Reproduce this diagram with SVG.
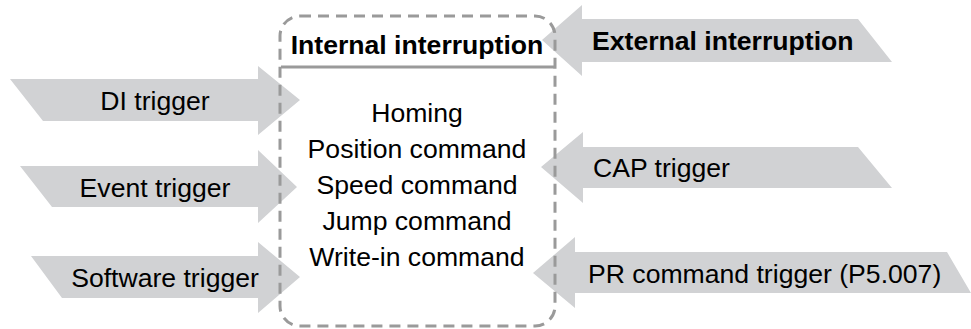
<svg xmlns="http://www.w3.org/2000/svg" width="971" height="329" viewBox="0 0 971 329">
<style>
.arr{fill:#d1d2d4;}
.t{font-family:"Liberation Sans",Arial,sans-serif;font-size:26.6px;fill:#000;}
.b{font-weight:bold;}
.box{fill:none;stroke:#9a9a9a;stroke-width:3;stroke-dasharray:11 7;}
</style>
<g id="connectors">
<g id="di-trigger">
<path class="arr" d="M10,79 L258,79 L258,66 L300,100 L258,135 L258,121 L43,121 Z"/>
<text class="t" x="155" y="110" text-anchor="middle">DI trigger</text>
</g>
<g id="event-trigger">
<path class="arr" d="M20,166 L258,166 L258,150 L297,187 L258,223 L258,207 L52,207 Z"/>
<text class="t" x="155" y="197" text-anchor="middle">Event trigger</text>
</g>
<g id="software-trigger">
<path class="arr" d="M31,256 L258,256 L258,242 L300,277 L258,313 L258,298 L62,298 Z"/>
<text class="t" x="165" y="287" text-anchor="middle">Software trigger</text>
</g>
<g id="external-interruption">
<path class="arr" d="M858,19 L582,19 L582,5 L542,40 L582,76 L582,62 L892,62 Z"/>
<text class="t b" x="592" y="50">External interruption</text>
</g>
<g id="cap-trigger">
<path class="arr" d="M858,147 L583,147 L583,132 L541,167 L583,203 L583,188 L892,188 Z"/>
<text class="t" x="593" y="177">CAP trigger</text>
</g>
<g id="pr-trigger">
<path class="arr" d="M947,252 L575,252 L575,237 L533,273 L575,308 L575,293 L971,293 Z"/>
<text class="t" x="588" y="283">PR command trigger (P5.007)</text>
</g>
</g>
<g id="internal-interruption">
<rect class="box" x="280" y="16" width="275" height="310" rx="20"/>
<line x1="281" y1="67" x2="554" y2="67" stroke="#9a9a9a" stroke-width="3"/>
<text class="t b" x="417" y="54" text-anchor="middle">Internal interruption</text>
<text class="t" x="417" y="122" text-anchor="middle">Homing</text>
<text class="t" x="417" y="158" text-anchor="middle">Position command</text>
<text class="t" x="417" y="194" text-anchor="middle">Speed command</text>
<text class="t" x="417" y="230" text-anchor="middle">Jump command</text>
<text class="t" x="417" y="266" text-anchor="middle">Write-in command</text>
</g>
</svg>
